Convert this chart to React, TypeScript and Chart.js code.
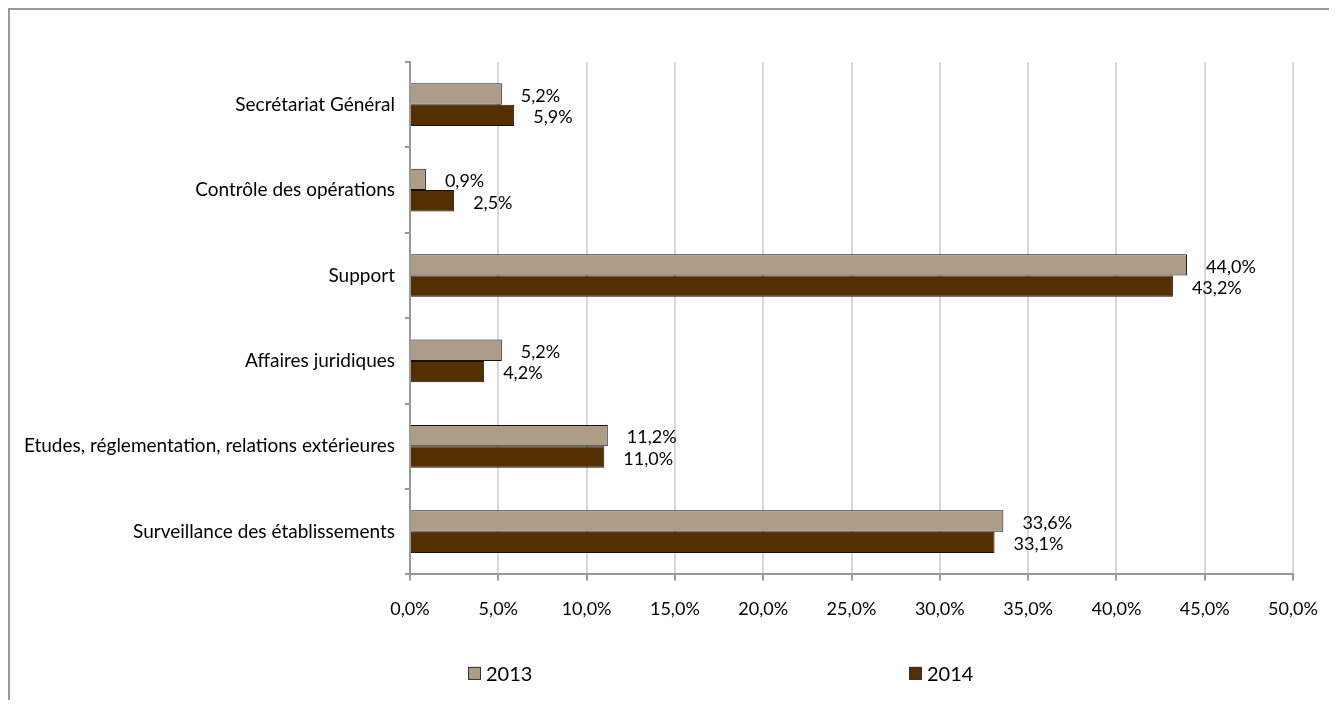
import React, { useEffect, useRef } from "react";
import { Chart, registerables } from "chart.js";

Chart.register(...registerables);

const categories = [
  "Secrétariat Général",
  "Contrôle des opérations",
  "Support",
  "Affaires juridiques",
  "Etudes, réglementation, relations extérieures",
  "Surveillance des établissements",
];
const series2013 = [5.2, 0.9, 44.0, 5.2, 11.2, 33.6];
const series2014 = [5.9, 2.5, 43.2, 4.2, 11.0, 33.1];
const seriesNames = ["2013", "2014"];
const seriesColors = ["#AE9C87", "#552F00"];

const FONT = "Lato, 'Open Sans', sans-serif";
const fmt = (v: number) => v.toFixed(1).replace(".", ",") + "%";

const valueLabels = {
  id: "valueLabels",
  afterDatasetsDraw(chart: any) {
    const ctx = chart.ctx;
    ctx.save();
    ctx.font = `18px ${FONT}`;
    ctx.fillStyle = "#000";
    ctx.textBaseline = "middle";
    ctx.textAlign = "left";
    chart.data.datasets.forEach((ds: any, i: number) => {
      const meta = chart.getDatasetMeta(i);
      meta.data.forEach((bar: any, j: number) => {
        ctx.fillText(fmt(ds.data[j]), bar.x + 19, bar.y + 2);
      });
    });
    ctx.restore();
  },
};

const customLegend = {
  id: "customLegend",
  afterDraw(chart: any) {
    const ctx = chart.ctx;
    const area = chart.chartArea;
    const offsets = [58, 499];
    const cy = area.bottom + 99;
    ctx.save();
    ctx.font = `20px ${FONT}`;
    ctx.textBaseline = "middle";
    ctx.textAlign = "left";
    seriesNames.forEach((name, i) => {
      const x = area.left + offsets[i];
      ctx.fillStyle = seriesColors[i];
      ctx.fillRect(x, cy - 6.5, 13, 13);
      ctx.strokeStyle = "#333";
      ctx.lineWidth = 1;
      ctx.strokeRect(x + 0.5, cy - 6, 12, 12);
      ctx.fillStyle = "#000";
      ctx.fillText(name, x + 18, cy + 1);
    });
    ctx.restore();
  },
};

export default function App() {
  const ref = useRef<HTMLCanvasElement | null>(null);
  useEffect(() => {
    if (!ref.current) return;
    const chart = new Chart(ref.current, {
      type: "bar",
      data: {
        labels: categories,
        datasets: [
          {
            label: seriesNames[0],
            data: series2013,
            backgroundColor: seriesColors[0],
            borderColor: "#111",
            borderWidth: 1,
            categoryPercentage: 0.5,
            barPercentage: 1.0,
          },
          {
            label: seriesNames[1],
            data: series2014,
            backgroundColor: seriesColors[1],
            borderColor: "#111",
            borderWidth: 1,
            categoryPercentage: 0.5,
            barPercentage: 1.0,
          },
        ],
      },
      options: {
        indexAxis: "y",
        responsive: false,
        animation: false,
        layout: { padding: { left: 0, right: 44, top: 52, bottom: 62 } },
        plugins: {
          legend: { display: false },
          tooltip: { enabled: false },
        },
        scales: {
          x: {
            min: 0,
            max: 50,
            ticks: {
              stepSize: 5,
              callback: (v: any) => fmt(Number(v)),
              font: { family: FONT, size: 18 },
              color: "#000",
              padding: 18,
              maxRotation: 0,
            },
            grid: { color: "#D9D9D9", lineWidth: 2, tickLength: 6, tickColor: "#999", tickWidth: 2 },
            border: { color: "#999", width: 2 },
          },
          y: {
            afterFit: (s: any) => {
              s.width = 400;
            },
            ticks: {
              font: { family: FONT, size: 19 },
              color: "#000",
              padding: 10,
            },
            grid: { drawOnChartArea: false, tickLength: 5, color: "#999", lineWidth: 2 },
            border: { color: "#999", width: 2 },
          },
        },
      },
      plugins: [valueLabels, customLegend],
    });
    return () => chart.destroy();
  }, []);
  return (
    <div
      style={{
        borderLeft: "2px solid #999",
        borderTop: "2px solid #999",
        width: 1327,
        height: 690,
        overflow: "hidden",
      }}
    >
      <canvas ref={ref} width={1327} height={690} style={{ display: "block" }} />
    </div>
  );
}
